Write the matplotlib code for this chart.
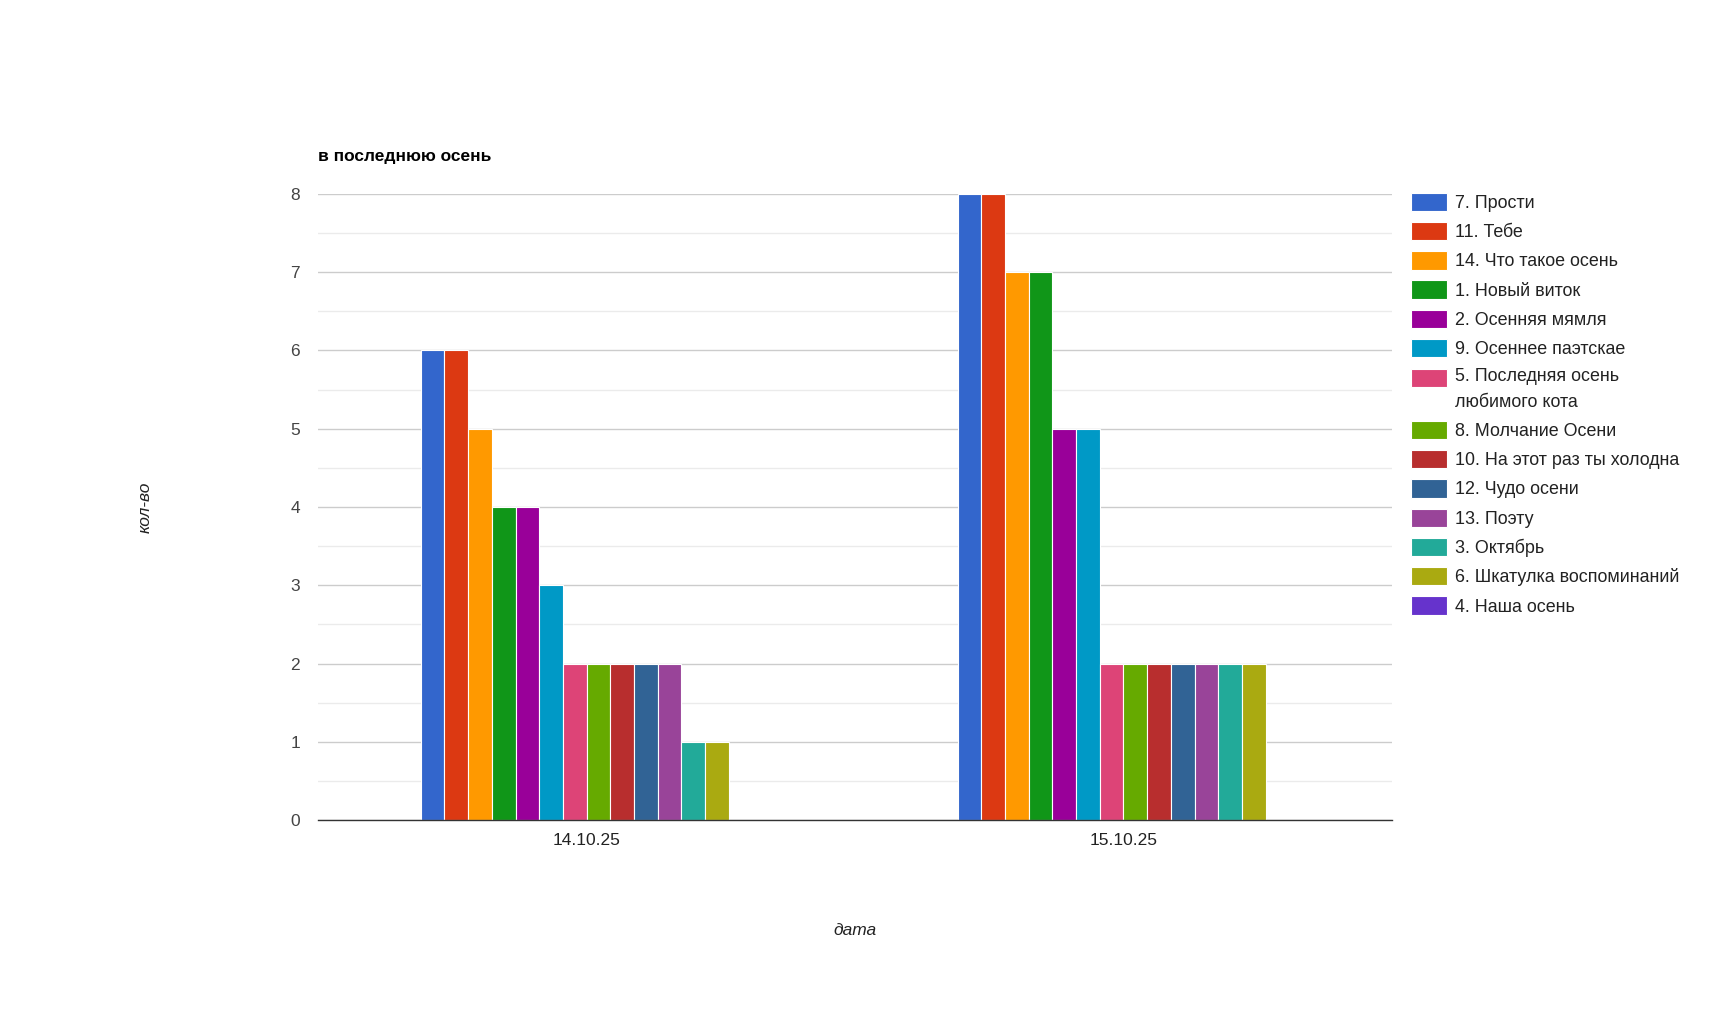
"""Grouped bar chart: votes per poem by date."""

import matplotlib
matplotlib.use("Agg")
import matplotlib.pyplot as plt
import numpy as np
from matplotlib.legend_handler import HandlerPatch, update_from_first_child

dates = ["14.10.25", "15.10.25"]
poems = [
    "7. Прости",
    "11. Тебе",
    "14. Что такое осень",
    "1. Новый виток",
    "2. Осенняя мямля",
    "9. Осеннее паэтскае",
    "5. Последняя осень\nлюбимого кота",
    "8. Молчание Осени",
    "10. На этот раз ты холодна",
    "12. Чудо осени",
    "13. Поэту",
    "3. Октябрь",
    "6. Шкатулка воспоминаний",
    "4. Наша осень",
]
votes_day1 = [6, 6, 5, 4, 4, 3, 2, 2, 2, 2, 2, 1, 1, 0]
votes_day2 = [8, 8, 7, 7, 5, 5, 2, 2, 2, 2, 2, 2, 2, 0]
colors = [
    "#3366cc", "#dc3912", "#ff9900", "#109618", "#990099", "#0099c6",
    "#dd4477", "#66aa00", "#b82e2e", "#316395", "#994499", "#22aa99",
    "#aaaa11", "#6633cc",
]


class RaisedPatch(HandlerPatch):
    """Put the swatch next to the first line of a wrapped label."""

    def __init__(self, shift, **kwargs):
        super().__init__(update_func=update_from_first_child, **kwargs)
        self.shift = shift

    def create_artists(self, legend, orig_handle, xdescent, ydescent,
                       width, height, fontsize, trans):
        artists = super().create_artists(legend, orig_handle, xdescent,
                                         ydescent, width, height, fontsize,
                                         trans)
        for a in artists:
            a.set_y(a.get_y() + self.shift)
        return artists


plt.rcParams["font.family"] = ["Liberation Sans", "DejaVu Sans"]

fig = plt.figure(figsize=(17.11, 10.14), dpi=100)
ax = fig.add_axes([0.186, 0.1913, 0.6275, 0.6174])

x = np.arange(len(dates), dtype=float)
group = 0.618
width = group / len(poems)
values = np.array([votes_day1, votes_day2])
containers = []
for i, (name, color) in enumerate(zip(poems, colors)):
    offset = -group / 2 + (i + 0.5) * width
    bc = ax.bar(x + offset, values[:, i], width=width, color=color,
                edgecolor="white", linewidth=0.8, label=name, zorder=3)
    containers.append(bc)

ax.set_xlim(-0.5, 1.5)
ax.set_ylim(0, 8)
ax.set_yticks(range(0, 9))
ax.set_yticks(np.arange(0.5, 8, 1.0), minor=True)
ax.set_xticks(x, dates)
ax.grid(axis="y", which="major", color="#cccccc", linewidth=1.0, zorder=0)
ax.grid(axis="y", which="minor", color="#ebebeb", linewidth=1.0, zorder=0)
for side in ("top", "right", "left"):
    ax.spines[side].set_visible(False)
ax.spines["bottom"].set_color("#333333")
ax.spines["bottom"].set_linewidth(1.0)
ax.spines["bottom"].set_zorder(4)
ax.tick_params(axis="y", which="both", length=0, pad=13, labelsize=12.5,
               labelcolor="#444444")
ax.tick_params(axis="x", length=0, pad=9, labelsize=12.5, labelcolor="#222222")

fig.text(0.186, 0.846, "в последнюю осень", fontsize=12.5, fontweight="bold",
         ha="left", va="center", color="#000000")
fig.text(0.0848, 0.5, "кол-во", fontsize=12.5, style="italic", rotation=90,
         ha="center", va="center", color="#222222")
fig.text(0.4995, 0.082, "дата", fontsize=12.5, style="italic",
         ha="center", va="center", color="#222222")

leg = ax.legend(loc="upper left", bbox_to_anchor=(0.8245, 0.81),
                bbox_transform=fig.transFigure, frameon=False, fontsize=12.9,
                handlelength=2.05, handleheight=1.2, handletextpad=0.42,
                labelspacing=0.56, borderpad=0, borderaxespad=0,
                labelcolor="#222222",
                handler_map={containers[6]: RaisedPatch(shift=8.6)})
for t in leg.get_texts():
    t.set_linespacing(1.65)

fig.savefig("out.png", dpi=100)
